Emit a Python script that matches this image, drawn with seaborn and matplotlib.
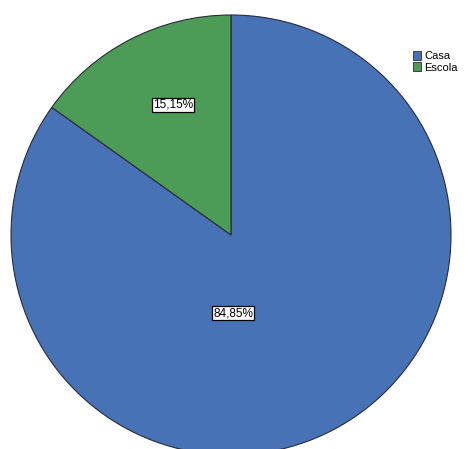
import matplotlib
matplotlib.use("Agg")
import matplotlib.pyplot as plt
from matplotlib.patches import Patch
import seaborn as sns

categories = ["Casa", "Escola"]
percentages = [84.85, 15.15]
colors = ["#4872b6", "#4c9b56"]

sns.set_theme(style="white")
plt.rcParams["font.family"] = ["Liberation Sans", "DejaVu Sans"]

W, H = 468, 449
fig = plt.figure(figsize=(W / 100, H / 100), dpi=100)
fig.patch.set_facecolor("white")

# pie occupies a square region of 440 px centred at (231, 235) px
cx, cy, r = 231, 235, 220
ax = fig.add_axes([(cx - r) / W, (H - cy - r) / H, 2 * r / W, 2 * r / H])

wedges, _ = ax.pie(
    percentages,
    colors=colors,
    startangle=90,
    counterclock=False,
    radius=1,
    wedgeprops=dict(edgecolor="#2a2a3a", linewidth=0.8),
)
ax.set_xlim(-1, 1)
ax.set_ylim(-1, 1)
ax.set_aspect("equal")
ax.axis("off")

label_pos = [(0.01, -0.355), (-0.264, 0.591)]
for pct, (x, y) in zip(percentages, label_pos):
    ax.text(
        x, y, f"{pct:.2f}%".replace(".", ","),
        ha="center", va="center", fontsize=8.5, color="black",
        bbox=dict(boxstyle="square,pad=0.1", facecolor="white",
                  edgecolor="black", linewidth=0.9),
    )

handles = [Patch(facecolor=c, edgecolor="#2a2a3a", linewidth=0.6) for c in colors]
leg = fig.legend(
    handles, categories,
    loc="upper left", bbox_to_anchor=(406 / W, 1 - 44 / H),
    frameon=False, fontsize=8,
    handlelength=0.75, handleheight=0.9, handletextpad=0.3,
    labelspacing=0.1, borderpad=0.1,
)
for t in leg.get_texts():
    t.set_color("black")

fig.savefig("out.png", dpi=100, facecolor="white")
